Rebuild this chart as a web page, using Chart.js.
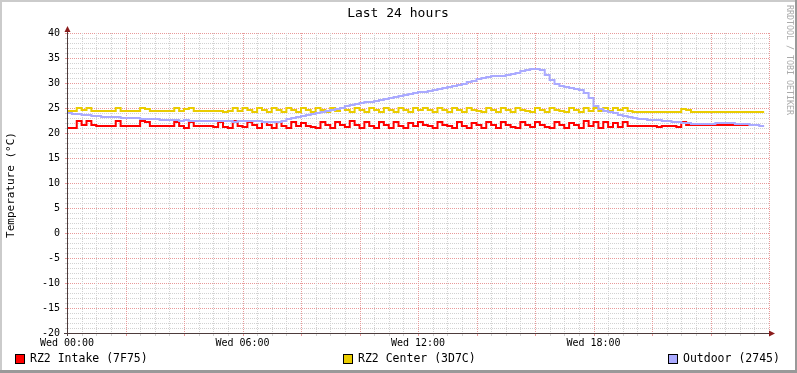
<!DOCTYPE html>
<html>
<head>
<meta charset="utf-8">
<script src="https://cdn.jsdelivr.net/npm/chart.js@4/dist/chart.umd.min.js"></script>
<style>
  html, body { margin: 0; padding: 0; background: #fff; }
  #wrap { width: 797px; height: 373px; }
</style>
</head>
<body>
<div id="wrap"><canvas id="myChart" width="797" height="373"></canvas></div>
<script>
'use strict';

// one sample every 10 minutes, first sample Wed 00:00
var stepMinutes = 10;

var hourLabels = { 0: 'Wed 00:00', 6: 'Wed 06:00', 12: 'Wed 12:00', 18: 'Wed 18:00' };
var yTickLabels = [-20, -15, -10, -5, 0, 5, 10, 15, 20, 25, 30, 35, 40];

var seriesNames = ['RZ2 Intake (7F75)', 'RZ2 Center (3D7C)', 'Outdoor (2745)'];

var intake = [
  21.0, 21.0, 22.4, 21.6, 22.4, 21.6, 21.4, 21.4, 21.4, 21.4,
  22.4, 21.4, 21.4, 21.4, 21.4, 22.4, 22.2, 21.4, 21.4, 21.4,
  21.4, 21.4, 22.2, 21.4, 21.0, 22.2, 21.4, 21.4, 21.4, 21.4,
  21.2, 22.2, 21.2, 21.0, 22.4, 21.4, 21.2, 22.2, 21.6, 21.0,
  22.2, 21.6, 21.0, 22.2, 21.4, 21.0, 22.2, 21.4, 22.0, 21.4,
  21.2, 21.0, 22.2, 21.6, 21.0, 22.2, 21.6, 21.2, 22.4, 21.6,
  21.0, 22.2, 21.4, 21.0, 22.2, 21.6, 21.0, 22.2, 21.4, 21.0,
  22.0, 21.4, 22.2, 21.6, 21.4, 21.0, 22.2, 21.6, 21.4, 21.0,
  22.2, 21.4, 21.0, 22.0, 21.6, 21.0, 22.2, 21.6, 21.0, 22.2,
  21.6, 21.2, 21.0, 22.2, 21.6, 21.2, 22.2, 21.6, 21.2, 21.0,
  22.2, 21.6, 21.0, 22.0, 21.6, 21.0, 22.4, 21.4, 22.2, 21.0,
  22.2, 21.2, 22.0, 21.2, 22.2, 21.4, 21.4, 21.4, 21.4, 21.4,
  21.4, 21.2, 21.4, 21.4, 21.4, 21.2, 22.2, 21.6, 21.6, 21.6,
  21.6, 21.6, 21.6, 21.6, 21.6, 21.6, 21.6, 21.6, 21.6, 21.6,
  21.6
];

var center = [
  24.4, 24.4, 25.0, 24.6, 25.0, 24.4, 24.4, 24.4, 24.4, 24.4,
  25.0, 24.4, 24.4, 24.4, 24.4, 25.0, 24.8, 24.4, 24.4, 24.4,
  24.4, 24.4, 25.0, 24.4, 24.8, 25.0, 24.4, 24.4, 24.4, 24.4,
  24.4, 24.4, 24.2, 24.4, 25.0, 24.4, 25.0, 24.6, 24.2, 25.0,
  24.6, 24.2, 25.0, 24.6, 24.2, 25.0, 24.6, 24.2, 25.0, 24.6,
  24.2, 25.0, 24.6, 24.2, 25.0, 24.4, 25.0, 24.6, 24.2, 25.0,
  24.6, 24.2, 25.0, 24.6, 24.2, 25.0, 24.6, 24.2, 25.0, 24.6,
  24.2, 25.0, 24.6, 25.0, 24.6, 24.2, 25.0, 24.6, 24.2, 25.0,
  24.6, 24.2, 25.0, 24.6, 24.4, 24.2, 25.0, 24.6, 24.2, 25.0,
  24.6, 24.2, 25.0, 24.6, 24.4, 24.2, 25.0, 24.6, 24.2, 25.0,
  24.6, 24.4, 24.2, 25.0, 24.6, 24.2, 25.0, 24.4, 25.0, 24.4,
  25.0, 24.4, 25.0, 24.6, 25.0, 24.4, 24.2, 24.2, 24.2, 24.2,
  24.2, 24.2, 24.2, 24.2, 24.2, 24.2, 24.8, 24.6, 24.2, 24.2,
  24.2, 24.2, 24.2, 24.2, 24.2, 24.2, 24.2, 24.2, 24.2, 24.2,
  24.2, 24.2, 24.2, 24.2
];

var outdoor = [
  24.0, 23.8, 23.8, 23.6, 23.6, 23.4, 23.4, 23.2, 23.2, 23.2,
  23.2, 23.0, 23.0, 23.0, 23.0, 22.8, 22.8, 22.8, 22.8, 22.6,
  22.6, 22.6, 22.6, 22.4, 22.6, 22.4, 22.4, 22.4, 22.4, 22.4,
  22.4, 22.4, 22.4, 22.4, 22.2, 22.4, 22.4, 22.4, 22.4, 22.4,
  22.2, 22.2, 22.2, 22.2, 22.4, 22.8, 23.0, 23.2, 23.4, 23.6,
  23.8, 24.0, 24.2, 24.4, 24.6, 24.8, 25.0, 25.4, 25.6, 25.8,
  26.0, 26.2, 26.2, 26.4, 26.6, 26.8, 27.0, 27.2, 27.4, 27.6,
  27.8, 28.0, 28.2, 28.2, 28.4, 28.6, 28.8, 29.0, 29.2, 29.4,
  29.6, 29.8, 30.2, 30.4, 30.8, 31.0, 31.2, 31.4, 31.4, 31.4,
  31.6, 31.8, 32.0, 32.4, 32.6, 32.8, 32.8, 32.6, 31.6, 30.6,
  29.8, 29.4, 29.2, 29.0, 28.8, 28.6, 28.0, 27.0, 25.4, 24.8,
  24.4, 24.2, 24.0, 23.6, 23.4, 23.2, 23.0, 22.8, 22.8, 22.6,
  22.6, 22.6, 22.4, 22.4, 22.2, 22.2, 22.0, 22.0, 21.8, 21.8,
  21.8, 21.8, 21.8, 22.0, 22.0, 22.0, 22.0, 21.8, 21.8, 21.8,
  21.6, 21.6, 21.4, 21.4
];

var seriesColors = ['#ff0000', '#eacc00', '#aaaaff'];
var monoFont = '"DejaVu Sans Mono", "Liberation Mono", monospace';

function toPoints(values) {
  return values.map(function(v, i) {
    return { x: i * stepMinutes / 60, y: v };
  });
}

var gridMinor = '#d2d2d2';
var gridMajor = '#e89a9a';

// rrdtool style decorations: dotted grid, frame, title, axes with arrows, legend, watermark
var rrdDecor = {
  id: 'rrdDecor',
  beforeDraw: function(chart) {
    var c = chart.ctx;
    c.save();
    c.fillStyle = '#ffffff';
    c.fillRect(0, 0, chart.width, chart.height);
    c.restore();
  },
  beforeDatasetsDraw: function(chart) {
    var c = chart.ctx;
    var a = chart.chartArea;
    var xs = chart.scales.x;
    var ys = chart.scales.y;
    var v, p, q, major;
    c.save();
    // horizontal lines, one per degree
    for (v = ys.min; v <= ys.max; v++) {
      major = yTickLabels.indexOf(v) >= 0;
      p = Math.round(ys.getPixelForValue(v));
      c.fillStyle = major ? gridMajor : gridMinor;
      for (q = a.left + 1; q <= a.right; q += 2) c.fillRect(q, p, 1, 1);
      c.fillRect(a.left - 2, p, 2, 1);
    }
    // vertical lines, one per half hour
    for (v = xs.min; v <= xs.max; v += 0.5) {
      major = v % 2 === 0;
      p = Math.round(xs.getPixelForValue(v));
      c.fillStyle = major ? gridMajor : gridMinor;
      for (q = Math.round(a.top); q < a.bottom; q += 2) c.fillRect(p, q, 1, 1);
      c.fillRect(p, a.bottom + 1, 1, 2);
    }
    c.restore();
  },
  afterDatasetsDraw: function(chart) {
    var c = chart.ctx;
    var a = chart.chartArea;
    c.save();
    c.strokeStyle = '#4d3b3b';
    c.lineWidth = 1;
    c.beginPath();
    c.moveTo(a.left + 0.5, a.bottom + 3);
    c.lineTo(a.left + 0.5, a.top - 3);
    c.moveTo(a.left - 3, a.bottom + 0.5);
    c.lineTo(a.right + 1, a.bottom + 0.5);
    c.stroke();
    c.fillStyle = '#8b1c1c';
    c.beginPath();
    c.moveTo(a.left - 2.5, a.top - 1);
    c.lineTo(a.left + 3.5, a.top - 1);
    c.lineTo(a.left + 0.5, a.top - 7);
    c.closePath();
    c.fill();
    c.beginPath();
    c.moveTo(a.right, a.bottom - 2.5);
    c.lineTo(a.right, a.bottom + 3.5);
    c.lineTo(a.right + 6, a.bottom + 0.5);
    c.closePath();
    c.fill();
    c.restore();
  },
  afterDraw: function(chart) {
    var c = chart.ctx;
    c.save();
    c.fillStyle = '#000';
    c.textBaseline = 'middle';

    c.font = '13px ' + monoFont;
    c.textAlign = 'center';
    c.fillText('Last 24 hours', 398, 14);

    c.save();
    c.translate(11, 185);
    c.rotate(-Math.PI / 2);
    c.font = '11px ' + monoFont;
    c.fillText('Temperature (°C)', 0, 0);
    c.restore();

    c.save();
    c.translate(789, 5);
    c.rotate(Math.PI / 2);
    c.textAlign = 'left';
    c.fillStyle = '#aaaaaa';
    c.font = '8.3px ' + monoFont;
    c.fillText('RRDTOOL / TOBI OETIKER', 0, 0);
    c.restore();

    // legend
    var boxX = [15, 343, 668];
    c.font = '11.5px ' + monoFont;
    c.textAlign = 'left';
    for (var i = 0; i < seriesNames.length; i++) {
      c.fillStyle = seriesColors[i];
      c.fillRect(boxX[i], 354, 9, 9);
      c.strokeStyle = '#000';
      c.lineWidth = 1;
      c.strokeRect(boxX[i] + 0.5, 354.5, 9, 9);
      c.fillStyle = '#000';
      c.fillText(seriesNames[i], boxX[i] + 15, 359);
    }

    // outer shaded frame
    c.fillStyle = '#cbcbcb';
    c.fillRect(0, 0, chart.width, 2);
    c.fillRect(0, 0, 2, chart.height);
    c.fillStyle = '#999999';
    c.fillRect(chart.width - 2, 0, 2, chart.height);
    c.fillRect(0, chart.height - 3, chart.width, 3);
    c.restore();
  }
};

var ctx = document.getElementById('myChart').getContext('2d');

var chart = new Chart(ctx, {
  type: 'line',
  data: {
    datasets: [{
      label: seriesNames[0],
      data: toPoints(intake),
      borderColor: seriesColors[0],
      order: 3
    }, {
      label: seriesNames[1],
      data: toPoints(center),
      borderColor: seriesColors[1],
      order: 2
    }, {
      label: seriesNames[2],
      data: toPoints(outdoor),
      borderColor: seriesColors[2],
      order: 1
    }]
  },
  options: {
    responsive: false,
    animation: false,
    devicePixelRatio: 1,
    layout: { padding: { left: 0, top: 33, right: 28, bottom: 0 } },
    elements: {
      point: { radius: 0 },
      line: { borderWidth: 2, stepped: 'before', tension: 0, fill: false }
    },
    plugins: {
      legend: { display: false },
      title: { display: false },
      tooltip: { enabled: false }
    },
    scales: {
      x: {
        type: 'linear',
        min: 0,
        max: 24,
        afterFit: function(s) { s.height = 40; },
        border: { display: false },
        grid: { display: false, drawTicks: false },
        ticks: {
          stepSize: 6,
          autoSkip: false,
          maxRotation: 0,
          padding: 4,
          color: '#000',
          font: { family: monoFont, size: 10 },
          callback: function(v) { return hourLabels[v] !== undefined ? hourLabels[v] : ''; }
        }
      },
      y: {
        min: -20,
        max: 40,
        afterFit: function(s) { s.width = 67; },
        border: { display: false },
        grid: { display: false, drawTicks: false },
        ticks: {
          stepSize: 5,
          autoSkip: false,
          padding: 7,
          color: '#000',
          font: { family: monoFont, size: 10 },
          callback: function(v) { return yTickLabels.indexOf(v) >= 0 ? String(v) : ''; }
        }
      }
    }
  },
  plugins: [rrdDecor]
});
</script>
</body>
</html>
